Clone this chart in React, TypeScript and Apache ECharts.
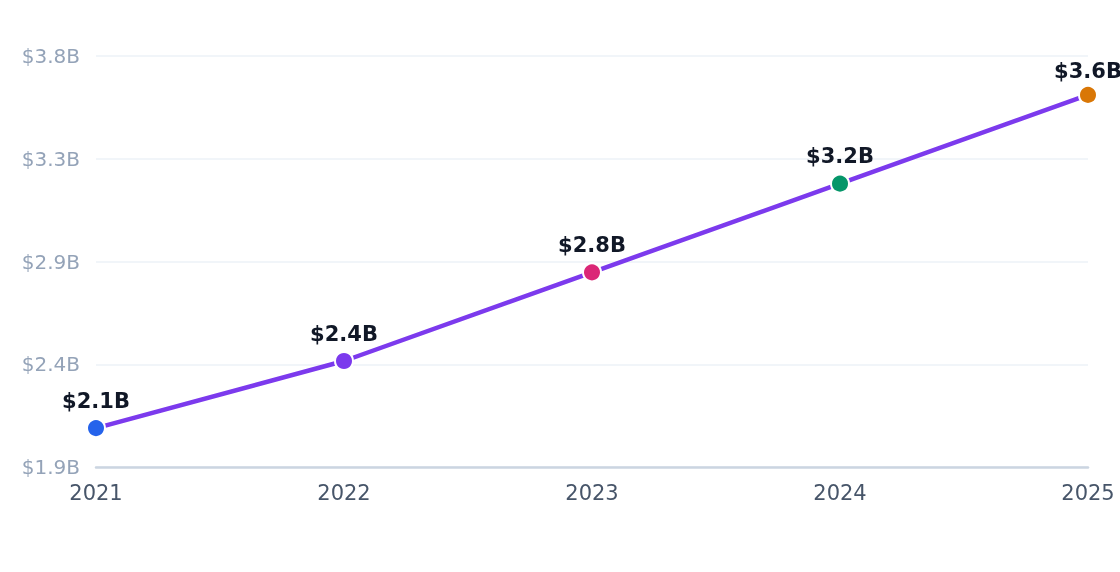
import React from "react";
import * as echarts from "echarts";

const years = ["2021", "2022", "2023", "2024", "2025"];
const revenue = [2.08, 2.39, 2.8, 3.21, 3.62];
const pointColors = ["#2563eb", "#7c3aed", "#db2777", "#059669", "#d97706"];

const App: React.FC = () => {
    const chartRef = React.useRef<HTMLDivElement>(null);

    React.useEffect(() => {
        if (!chartRef.current) return;

        const chart = echarts.init(chartRef.current, undefined, { renderer: "svg" });

        const last = revenue.length - 1;

        const option = {
            animation: false,
            grid: {
                top: 56,
                left: 96,
                right: 32,
                bottom: 105,
                containLabel: false,
            },
            xAxis: {
                type: "category",
                data: years,
                boundaryGap: false,
                axisLine: {
                    lineStyle: { color: "#cbd5e1", width: 2.5 },
                },
                axisTick: { show: false },
                axisLabel: {
                    color: "#475569",
                    fontSize: 21,
                    fontFamily: "DejaVu Sans",
                    margin: 15,
                },
                splitLine: { show: false },
            },
            yAxis: {
                type: "value",
                min: 1.9,
                max: 3.8,
                interval: 0.475,
                axisLine: { show: false },
                axisTick: { show: false },
                axisLabel: {
                    color: "#94a3b8",
                    fontSize: 20,
                    fontFamily: "DejaVu Sans",
                    margin: 16,
                    formatter: (v: number) => `$${v.toFixed(1)}B`,
                },
                splitLine: {
                    lineStyle: { color: "#f1f5f9", width: 2 },
                },
            },
            series: [
                {
                    name: "Revenue",
                    type: "line",
                    data: revenue.map((v, i) => ({
                        value: v,
                        itemStyle: { color: pointColors[i] },
                        label: { distance: i === last ? 3 : 7 },
                    })),
                    symbol: "circle",
                    symbolSize: 18,
                    lineStyle: { color: "#7c3aed", width: 4.5 },
                    itemStyle: {
                        borderColor: "#ffffff",
                        borderWidth: 2,
                    },
                    label: {
                        show: true,
                        position: "top",
                        distance: 7,
                        color: "#111827",
                        fontSize: 21,
                        fontWeight: "bold",
                        fontFamily: "DejaVu Sans",
                        formatter: (p: any) => `$${Number(p.value).toFixed(1)}B`,
                    },
                    z: 3,
                },
            ],
        };

        chart.setOption(option as any);

        const handleResize = () => chart.resize();
        window.addEventListener("resize", handleResize);

        return () => {
            window.removeEventListener("resize", handleResize);
            chart.dispose();
        };
    }, []);

    return (
        <div
            ref={chartRef}
            style={{ position: "fixed", left: 0, top: 0, width: "1120px", height: "572px" }}
        />
    );
};

export default App;
